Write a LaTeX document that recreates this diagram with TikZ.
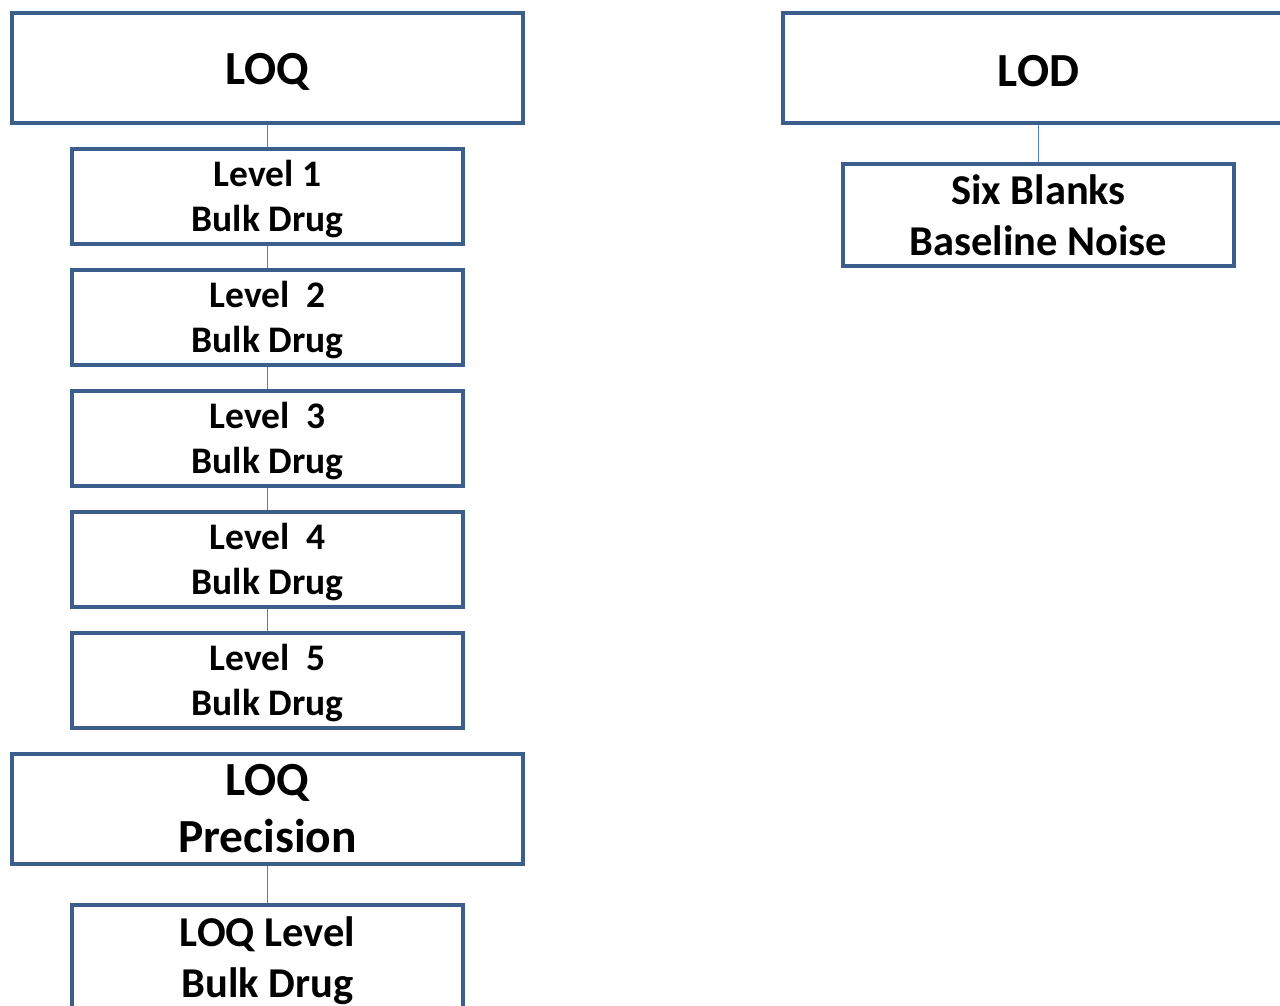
\documentclass[tikz,border=0pt]{standalone}
\usepackage{fontspec}
\setmainfont{Carlito}
\definecolor{boxblue}{HTML}{3B5E8C}
\definecolor{lineblue}{HTML}{4F81BD}
\begin{document}
\begin{tikzpicture}[x=1pt,y=-1pt,
  box/.style={draw=boxblue, line width=4pt, fill=white, rectangle, inner sep=0pt, align=center, font=\bfseries},
  conn/.style={draw=lineblue, line width=1.5pt},
  big/.style={font=\bfseries\fontsize{47.5}{57}\selectfont},
  mid/.style={font=\bfseries\fontsize{37.5}{45}\selectfont},
  midl/.style={font=\bfseries\fontsize{42.5}{51}\selectfont},
  lvl/.style={box,minimum width=391pt,minimum height=95pt},
  lvltext/.style={mid,align=center,inner sep=0pt}]
\useasboundingbox (0,0) rectangle (1280,1006);
\clip (0,0) rectangle (1280,1006);
% LOQ column
\node[box,big,minimum width=511pt,minimum height=110pt] (loq) at (267.5,68) {\raisebox{-4pt}[\height][\depth]{LOQ}};
\node[lvl] (l1) at (267.5,196.5) {};
\node[lvltext] (l1t) at (267.5,199.5) {Level 1\\Bulk Drug};
\node[lvl] (l2) at (267.5,317.5) {};
\node[lvltext] (l2t) at (267.5,320.5) {Level~~2\\Bulk Drug};
\node[lvl] (l3) at (267.5,438.5) {};
\node[lvltext] (l3t) at (267.5,441.5) {Level~~3\\Bulk Drug};
\node[lvl] (l4) at (267.5,559.5) {};
\node[lvltext] (l4t) at (267.5,562.5) {Level~~4\\Bulk Drug};
\node[lvl] (l5) at (267.5,680.5) {};
\node[lvltext] (l5t) at (267.5,683.5) {Level~~5\\Bulk Drug};
\node[box,big,minimum width=511pt,minimum height=110pt] (prec) at (267.5,809) {LOQ\\Precision};
\node[box,minimum width=391pt,minimum height=130pt] (ll) at (267.5,970) {};
\node[midl,inner sep=0pt,align=center] (lltext) at (267.5,961) {LOQ Level\\Bulk Drug};
% LOD column
\node[box,big,minimum width=511pt,minimum height=110pt] (lod) at (1038.5,68) {\raisebox{-3pt}[\height][\depth]{LOD}};
\node[box,midl,minimum width=391pt,minimum height=102pt] (six) at (1038.5,215) {Six Blanks\\Baseline Noise};
% connectors
\draw[conn] (loq.south) -- (l1.north);
\draw[conn] (l1.south) -- (l2.north);
\draw[conn] (l2.south) -- (l3.north);
\draw[conn] (l3.south) -- (l4.north);
\draw[conn] (l4.south) -- (l5.north);
\draw[conn] (prec.south) -- (ll.north);
\draw[conn] (lod.south) -- (six.north);
\end{tikzpicture}
\end{document}
